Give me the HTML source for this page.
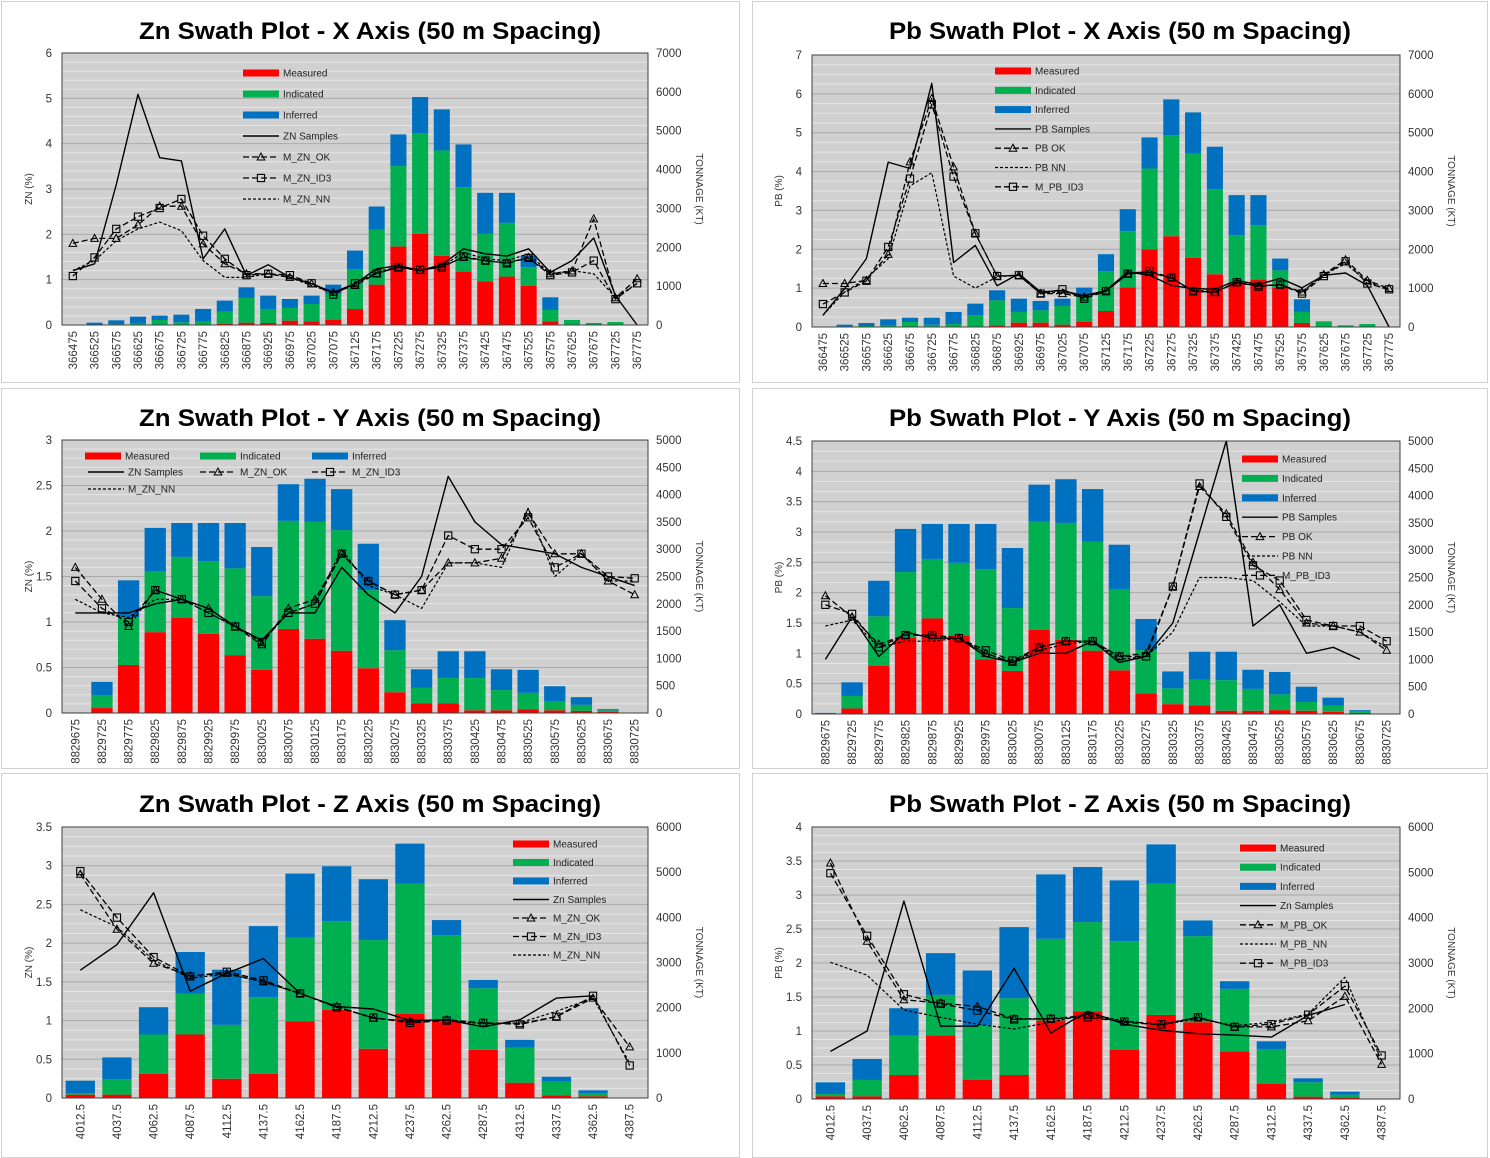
<!DOCTYPE html>
<html><head><meta charset="utf-8"><title>Swath Plots</title>
<style>
html,body{margin:0;padding:0;background:#fff;}
svg{display:block;font-family:"Liberation Sans",Arial,sans-serif;}
</style></head>
<body>
<svg id="chart" width="1490" height="1158" viewBox="0 0 1490 1158" xmlns="http://www.w3.org/2000/svg"></svg>
<script>
// ---------- DATA ----------
const xCats = [366475,366525,366575,366625,366675,366725,366775,366825,366875,366925,366975,367025,367075,367125,367175,367225,367275,367325,367375,367425,367475,367525,367575,367625,367675,367725,367775];
const yCats = [8829675,8829725,8829775,8829825,8829875,8829925,8829975,8830025,8830075,8830125,8830175,8830225,8830275,8830325,8830375,8830425,8830475,8830525,8830575,8830625,8830675,8830725];
const zCats = ["4012.5","4037.5","4062.5","4087.5","4112.5","4137.5","4162.5","4187.5","4212.5","4237.5","4262.5","4287.5","4312.5","4337.5","4362.5","4387.5"];

// Panel 1 - Zn X
const p1Measured = [0,0,0,0,0,0,0,26,60,52,112,94,129,412,1039,2019,2345,1778,1374,1125,1246,1005,94,0,0,0,0];
const p1MeasInd = [0,10,20,40,129,69,86,344,696,412,438,541,799,1434,2457,4089,4939,4493,3548,2345,2629,1486,387,129,52,77,0];
const p1Total = [0,60,120,215,240,266,412,627,970,756,670,756,1039,1915,3049,4905,5867,5549,4647,3402,3402,1787,713,129,52,77,0];
const p1Samples = [1.2,1.35,3.1,5.09,3.69,3.62,1.46,2.12,1.09,1.33,1.05,0.91,0.72,0.91,1.24,1.31,1.2,1.33,1.68,1.57,1.52,1.68,1.16,1.42,1.92,0.65,0];
const p1OK = [1.8,1.91,1.91,2.21,2.62,2.62,1.79,1.35,1.13,1.13,1.05,0.91,0.72,0.87,1.14,1.27,1.2,1.29,1.49,1.42,1.37,1.49,1.13,1.19,2.34,0.6,1.02];
const p1ID3 = [1.08,1.49,2.12,2.39,2.58,2.78,1.97,1.46,1.1,1.13,1.1,0.92,0.67,0.92,1.14,1.27,1.22,1.27,1.51,1.42,1.36,1.48,1.1,1.16,1.42,0.57,0.92];
const p1NN = [1.2,1.42,1.86,2.12,2.27,2.08,1.42,1.05,1.05,1.13,1.05,0.87,0.72,0.91,1.16,1.29,1.2,1.29,1.6,1.46,1.42,1.57,1.13,1.2,1.13,0.61,0.91];
const p1LeftTicks = [0,1,2,3,4,5,6];
const p1RightTicks = [0,1000,2000,3000,4000,5000,6000,7000];

// Panel 2 - Pb X
const p2Measured = [0,0,0,0,0,0,0,0,43,112,112,60,129,412,1014,1993,2336,1778,1357,1142,1220,1005,103,0,0,0,0];
const p2MeasInd = [0,15,25,40,129,60,77,301,687,387,430,541,799,1434,2465,4080,4939,4467,3548,2362,2620,1460,387,146,43,77,0];
const p2Total = [0,60,103,198,240,240,387,601,945,730,670,730,1014,1873,3032,4879,5858,5523,4639,3394,3394,1761,713,146,43,77,0];
const p2Samples = [0.3,0.99,1.76,4.24,4.08,6.27,1.66,2.1,1.06,1.37,0.9,0.94,0.8,0.94,1.42,1.33,1.07,0.99,0.97,1.2,1.09,1.25,1.01,1.33,1.39,1.07,0];
const p2OK = [1.12,1.12,1.2,1.87,4.25,5.88,4.12,2.41,1.31,1.33,0.86,0.86,0.77,0.93,1.37,1.4,1.27,0.92,0.89,1.15,1.06,1.09,0.9,1.35,1.73,1.2,0.99];
const p2NN = [0.3,0.9,1.25,1.76,3.63,3.97,1.31,1.0,1.29,1.33,0.86,0.9,0.81,0.94,1.39,1.42,1.25,0.94,0.92,1.12,1.07,1.07,0.9,1.35,1.63,1.17,0.94];
const p2ID3 = [0.59,0.89,1.19,2.06,3.82,5.73,3.87,2.41,1.31,1.33,0.86,0.97,0.73,0.92,1.37,1.44,1.27,0.92,0.9,1.15,1.04,1.09,0.86,1.31,1.69,1.12,0.97];
const p2LeftTicks = [0,1,2,3,4,5,6,7];
const p2RightTicks = [0,1000,2000,3000,4000,5000,6000,7000];

// Panel 3 - Zn Y
const p3Measured = [2,90,880,1480,1740,1450,1060,790,1540,1360,1140,820,380,180,180,50,50,70,50,40,20,0];
const p3MeasInd = [5,330,1760,2600,2860,2780,2650,2140,3520,3500,3350,2250,1150,460,640,640,420,370,220,150,50,0];
const p3Total = [10,570,2430,3390,3480,3480,3480,3040,4190,4290,4100,3100,1700,800,1130,1130,800,790,490,290,70,0];
const p3Samples = [1.1,1.1,1.1,1.2,1.25,1.15,0.95,0.8,1.1,1.1,1.6,1.3,1.1,1.5,2.6,2.1,1.85,1.8,1.75,1.6,1.5,1.4];
const p3OK = [1.6,1.25,0.95,1.35,1.25,1.15,0.95,0.75,1.15,1.25,1.75,1.45,1.3,1.35,1.65,1.65,1.7,2.2,1.75,1.75,1.45,1.3];
const p3ID3 = [1.45,1.15,1.0,1.35,1.25,1.1,0.95,0.78,1.1,1.2,1.75,1.45,1.3,1.35,1.95,1.8,1.8,2.15,1.6,1.75,1.5,1.48];
const p3NN = [1.25,1.1,1.05,1.25,1.25,1.1,0.95,0.8,1.1,1.2,1.8,1.4,1.3,1.15,1.65,1.65,1.6,2.25,1.5,1.75,1.45,1.45];
const p3LeftTicks = [0,0.5,1,1.5,2,2.5,3];
const p3RightTicks = [0,500,1000,1500,2000,2500,3000,3500,4000,4500,5000];

// Panel 4 - Pb Y
const p4Measured = [5,100,880,1400,1750,1440,1000,790,1540,1360,1160,800,380,180,160,60,60,70,60,40,20,0];
const p4MeasInd = [10,330,1790,2600,2840,2770,2650,1940,3520,3500,3160,2290,1170,470,630,620,460,360,220,150,50,0];
const p4Total = [20,580,2440,3390,3480,3480,3480,3040,4200,4300,4120,3100,1740,780,1140,1140,810,770,500,300,70,0];
const p4Samples = [0.9,1.6,0.95,1.35,1.25,1.25,0.95,0.85,1.0,1.0,1.2,0.85,0.95,1.5,3.0,4.5,1.45,1.8,1.0,1.1,0.9,null];
const p4OK = [1.95,1.6,1.15,1.3,1.3,1.25,1.0,0.85,1.1,1.2,1.2,0.95,1.0,2.1,3.75,3.3,2.5,2.05,1.5,1.45,1.35,1.05];
const p4NN = [1.45,1.55,1.1,1.2,1.2,1.25,1.0,0.85,1.05,1.15,1.2,0.9,0.95,1.35,2.25,2.25,2.2,1.85,1.45,1.45,1.35,1.1];
const p4ID3 = [1.8,1.65,1.1,1.3,1.3,1.25,1.05,0.88,1.1,1.2,1.2,0.95,0.95,2.1,3.8,3.25,2.45,2.2,1.55,1.45,1.45,1.2];
const p4LeftTicks = [0,0.5,1,1.5,2,2.5,3,3.5,4,4.5];
const p4RightTicks = [0,500,1000,1500,2000,2500,3000,3500,4000,4500,5000];

// Panel 5 - Zn Z
const p5Measured = [74,74,537,1406,427,537,1693,1951,1090,1862,1686,1067,339,59,37,0];
const p5MeasInd = [110,420,1406,2312,1620,2230,3548,3916,3497,4748,3607,2429,1112,368,110,0];
const p5Total = [383,898,2010,3232,2841,3806,4969,5131,4844,5632,3939,2613,1288,471,169,0];
const p5Samples = [1.65,1.98,2.65,1.38,1.61,1.8,1.35,1.18,1.15,1.0,1.01,0.92,1.01,1.29,1.32,null];
const p5OK = [2.89,2.18,1.74,1.58,1.61,1.5,1.35,1.18,1.03,0.99,1.01,0.97,0.96,1.05,1.29,0.66];
const p5ID3 = [2.93,2.33,1.82,1.57,1.63,1.52,1.35,1.17,1.04,0.97,1.0,0.97,0.95,1.05,1.32,0.42];
const p5NN = [2.43,2.21,1.78,1.55,1.6,1.5,1.35,1.18,1.03,0.99,1.0,0.96,0.97,1.12,1.29,0.45];
const p5LeftTicks = [0,0.5,1,1.5,2,2.5,3,3.5];
const p5RightTicks = [0,1000,2000,3000,4000,5000,6000];

// Panel 6 - Pb Z
const p6Measured = [59,59,530,1399,420,530,1730,1936,1082,1855,1693,1052,331,52,37,0];
const p6MeasInd = [110,420,1399,2297,1620,2223,3534,3902,3482,4748,3592,2429,1104,368,96,0];
const p6Total = [368,883,2002,3217,2834,3791,4954,5117,4822,5617,3939,2598,1273,456,162,0];
const p6Samples = [0.7,1.0,2.91,1.07,1.07,1.92,0.97,1.29,1.1,1.01,0.96,0.94,0.91,1.23,1.39,null];
const p6OK = [3.47,2.32,1.46,1.41,1.36,1.18,1.18,1.23,1.13,1.09,1.2,1.06,1.06,1.15,1.51,0.51];
const p6ID3 = [3.32,2.4,1.54,1.4,1.3,1.17,1.18,1.2,1.14,1.1,1.2,1.06,1.1,1.24,1.66,0.64];
const p6NN = [2.01,1.82,1.31,1.2,1.1,1.03,1.13,1.25,1.15,1.09,1.18,1.08,1.13,1.25,1.79,0.56];
const p6LeftTicks = [0,0.5,1,1.5,2,2.5,3,3.5,4];
const p6RightTicks = [0,1000,2000,3000,4000,5000,6000];

// ---------- RENDER ----------
const NS = "http://www.w3.org/2000/svg";
const svg = document.getElementById("chart");
function mk(tag, attrs, parent) {
  const e = document.createElementNS(NS, tag);
  for (const k in attrs) e.setAttribute(k, attrs[k]);
  (parent || svg).appendChild(e);
  return e;
}
const RED = "#ff0000", GREEN = "#00b050", BLUE = "#0070c0";
const LS = {
  samples: {dash: null, marker: null, w: 1.4},
  ok: {dash: "6,3", marker: "tri", w: 1.3},
  id3: {dash: "6,3", marker: "sq", w: 1.3},
  nn: {dash: "3,2", marker: null, w: 1.2}
};

const panels = [
  {id:"zn-x", box:[1,1,739,382], title:"Zn Swath Plot - X Axis (50 m Spacing)", tx:370, ty:39,
   plot:[62,53,648,325], lmax:6, rmax:7000, lt:p1LeftTicks, rt:p1RightTicks, cats:xCats, ylab:"ZN (%)",
   meas:p1Measured, mi:p1MeasInd, tot:p1Total, bw:0.74,
   lines:[["ZN Samples",p1Samples,"samples"],["M_ZN_OK",p1OK,"ok"],["M_ZN_ID3",p1ID3,"id3"],["M_ZN_NN",p1NN,"nn"]],
   legend:{type:"col", x:243, y0:73, dy:21}},
  {id:"pb-x", box:[752,1,1487,382], title:"Pb Swath Plot - X Axis (50 m Spacing)", tx:1120, ty:39,
   plot:[812,55,1400,327], lmax:7, rmax:7000, lt:p2LeftTicks, rt:p2RightTicks, cats:xCats, ylab:"PB (%)",
   meas:p2Measured, mi:p2MeasInd, tot:p2Total, bw:0.74,
   lines:[["PB Samples",p2Samples,"samples"],["PB OK",p2OK,"ok"],["PB NN",p2NN,"nn"],["M_PB_ID3",p2ID3,"id3"]],
   legend:{type:"col", x:995, y0:71, dy:19.3}},
  {id:"zn-y", box:[1,388,739,768], title:"Zn Swath Plot - Y Axis (50 m Spacing)", tx:370, ty:426,
   plot:[62,440,648,713], lmax:3, rmax:5000, lt:p3LeftTicks, rt:p3RightTicks, cats:yCats, ylab:"ZN (%)",
   meas:p3Measured, mi:p3MeasInd, tot:p3Total, bw:0.8,
   lines:[["ZN Samples",p3Samples,"samples"],["M_ZN_OK",p3OK,"ok"],["M_ZN_ID3",p3ID3,"id3"],["M_ZN_NN",p3NN,"nn"]],
   legend:{type:"grid", pos:[[85,456],[200,456],[312,456],[88,472],[200,472],[312,472],[88,489]]}},
  {id:"pb-y", box:[752,388,1487,768], title:"Pb Swath Plot - Y Axis (50 m Spacing)", tx:1120, ty:426,
   plot:[812,441,1400,714], lmax:4.5, rmax:5000, lt:p4LeftTicks, rt:p4RightTicks, cats:yCats, ylab:"PB (%)",
   meas:p4Measured, mi:p4MeasInd, tot:p4Total, bw:0.8,
   lines:[["PB Samples",p4Samples,"samples"],["PB OK",p4OK,"ok"],["PB NN",p4NN,"nn"],["M_PB_ID3",p4ID3,"id3"]],
   legend:{type:"col", x:1242, y0:459, dy:19.4}},
  {id:"zn-z", box:[1,773,739,1157], title:"Zn Swath Plot - Z Axis (50 m Spacing)", tx:370, ty:812,
   plot:[62,827,648,1098], lmax:3.5, rmax:6000, lt:p5LeftTicks, rt:p5RightTicks, cats:zCats, ylab:"ZN (%)",
   meas:p5Measured, mi:p5MeasInd, tot:p5Total, bw:0.8,
   lines:[["Zn Samples",p5Samples,"samples"],["M_ZN_OK",p5OK,"ok"],["M_ZN_ID3",p5ID3,"id3"],["M_ZN_NN",p5NN,"nn"]],
   legend:{type:"col", x:513, y0:844, dy:18.5}},
  {id:"pb-z", box:[752,773,1487,1157], title:"Pb Swath Plot - Z Axis (50 m Spacing)", tx:1120, ty:812,
   plot:[812,827,1400,1099], lmax:4, rmax:6000, lt:p6LeftTicks, rt:p6RightTicks, cats:zCats, ylab:"PB (%)",
   meas:p6Measured, mi:p6MeasInd, tot:p6Total, bw:0.8,
   lines:[["Zn Samples",p6Samples,"samples"],["M_PB_OK",p6OK,"ok"],["M_PB_NN",p6NN,"nn"],["M_PB_ID3",p6ID3,"id3"]],
   legend:{type:"col", x:1240, y0:848, dy:19.2}}
];

function marker(g, kind, x, y) {
  let m;
  if (kind === "tri") {
    m = mk("polygon", {points:`${x},${y-4} ${x-3.8},${y+3} ${x+3.8},${y+3}`, fill:"none", stroke:"#000", "stroke-width":1}, g);
  } else {
    m = mk("rect", {x:x-3.6, y:y-3.6, width:7.2, height:7.2, fill:"none", stroke:"#000", "stroke-width":1.1}, g);
  }
  
  
}

panels.forEach(p => {
  const g = mk("g", {});
  
  
  const [bx0,by0,bx1,by1] = p.box;
  const fr = mk("rect", {x:bx0+0.5, y:by0+0.5, width:bx1-bx0, height:by1-by0, fill:"#fff", stroke:"#d0d0d0", "stroke-width":1}, g);
  
  
  const t = mk("text", {x:p.tx, y:p.ty, "text-anchor":"middle", "font-size":24, "font-weight":"bold", fill:"#000", textLength:462, lengthAdjust:"spacingAndGlyphs"}, g);
  t.textContent = p.title;
  
  

  const [x0,y0,x1,y1] = p.plot;
  const H = y1 - y0, W = x1 - x0, n = p.cats.length, step = W / n;
  const yL = v => y1 - v / p.lmax * H;
  const yR = v => y1 - v / p.rmax * H;
  const xC = i => x0 + step * (i + 0.5);

  const bg = mk("rect", {x:x0, y:y0, width:W, height:H, fill:"#d0d0d0"}, g);
  
  
  // grid
  const majPx = H / (p.lt.length - 1);
  const nMin = Math.max(1, Math.round(majPx / 9));
  for (let k = 0; k < p.lt.length - 1; k++) {
    for (let m = 1; m < nMin; m++) {
      const yy = y1 - k * majPx - m * majPx / nMin;
      const gl = mk("line", {x1:x0, x2:x1, y1:yy, y2:yy, stroke:"#e6e6e6", "stroke-width":1}, g);
      
      
    }
  }
  p.lt.forEach(v => {
    const yy = yL(v);
    const gl = mk("line", {x1:x0, x2:x1, y1:yy, y2:yy, stroke:"#a9a9a9", "stroke-width":1}, g);
    
    
    const tl = mk("text", {x:x0-10, y:yy+4, "text-anchor":"end", "font-size":11.5, fill:"#333"}, g);
    tl.textContent = String(v);
    
    
  });
  p.rt.forEach(v => {
    const yy = yR(v);
    const tl = mk("text", {x:x1+8, y:yy+4, "text-anchor":"start", "font-size":11.5, fill:"#333"}, g);
    tl.textContent = String(v);
    
    
  });
  // bars
  const bw = step * p.bw;
  for (let i = 0; i < n; i++) {
    const segs = [[0, p.meas[i], RED, 'bar-measured'], [p.meas[i], p.mi[i], GREEN, 'bar-indicated'], [p.mi[i], p.tot[i], BLUE, 'bar-inferred']];
    segs.forEach(s => {
      if (s[1] > s[0]) {
        const r = mk("rect", {x:xC(i)-bw/2, y:yR(s[1]), width:bw, height:yR(s[0])-yR(s[1]), fill:s[2]}, g);
        
        
      }
    });
  }
  // lines
  p.lines.forEach(L => {
    const st = LS[L[2]], vals = L[1];
    let d = "", pen = false;
    vals.forEach((v, i) => {
      if (v === null || v === undefined) { pen = false; return; }
      d += (pen ? "L" : "M") + xC(i).toFixed(1) + "," + yL(v).toFixed(1);
      pen = true;
    });
    const pa = {d:d, fill:"none", stroke:"#000", "stroke-width":st.w, "stroke-linejoin":"round"};
    if (st.dash) pa["stroke-dasharray"] = st.dash;
    const path = mk("path", pa, g);
    
    
    if (st.marker) vals.forEach((v, i) => { if (v !== null) marker(g, st.marker, xC(i), yL(v)); });
  });
  const border = mk("rect", {x:x0, y:y0, width:W, height:H, fill:"none", stroke:"#404040", "stroke-width":1}, g);
  
  
  // category labels
  p.cats.forEach((c, i) => {
    const cx = xC(i) + 4, cy = y1 + 6;
    const tl = mk("text", {x:cx, y:cy, "text-anchor":"end", "font-size":11.5, fill:"#333", transform:`rotate(-90 ${cx} ${cy})`}, g);
    tl.textContent = String(c);
    
    
  });
  // axis titles
  const lx = x0 - 30, ly = (y0 + y1) / 2;
  const at = mk("text", {x:lx, y:ly, "text-anchor":"middle", "font-size":10, fill:"#333", transform:`rotate(-90 ${lx} ${ly})`}, g);
  at.textContent = p.ylab;
  
  
  const rx = x1 + 48;
  const rt = mk("text", {x:rx, y:ly, "text-anchor":"middle", "font-size":10, fill:"#333", transform:`rotate(90 ${rx} ${ly})`}, g);
  rt.textContent = "TONNAGE (KT)";
  
  
  // legend
  const items = [["Measured","fill",RED],["Indicated","fill",GREEN],["Inferred","fill",BLUE]];
  p.lines.forEach(L => items.push([L[0], L[2]]));
  items.forEach((it, k) => {
    let lx0, ly0;
    if (p.legend.type === "col") { lx0 = p.legend.x; ly0 = p.legend.y0 + k * p.legend.dy; }
    else { lx0 = p.legend.pos[k][0]; ly0 = p.legend.pos[k][1]; }
    const lg = mk("g", {}, g);
    
    
    if (it[1] === "fill") {
      mk("rect", {x:lx0, y:ly0-3.5, width:36, height:7, fill:it[2]}, lg);
    } else {
      const st = LS[it[1]];
      const la = {x1:lx0, x2:lx0+36, y1:ly0, y2:ly0, stroke:"#000", "stroke-width":st.w};
      if (st.dash) la["stroke-dasharray"] = st.dash;
      mk("line", la, lg);
      if (st.marker) marker(lg, st.marker, lx0+18, ly0);
    }
    const tx = mk("text", {x:lx0+40, y:ly0+3.5, "font-size":10, fill:"#222"}, lg);
    tx.textContent = it[0];
  });
});
</script>
</body></html>
